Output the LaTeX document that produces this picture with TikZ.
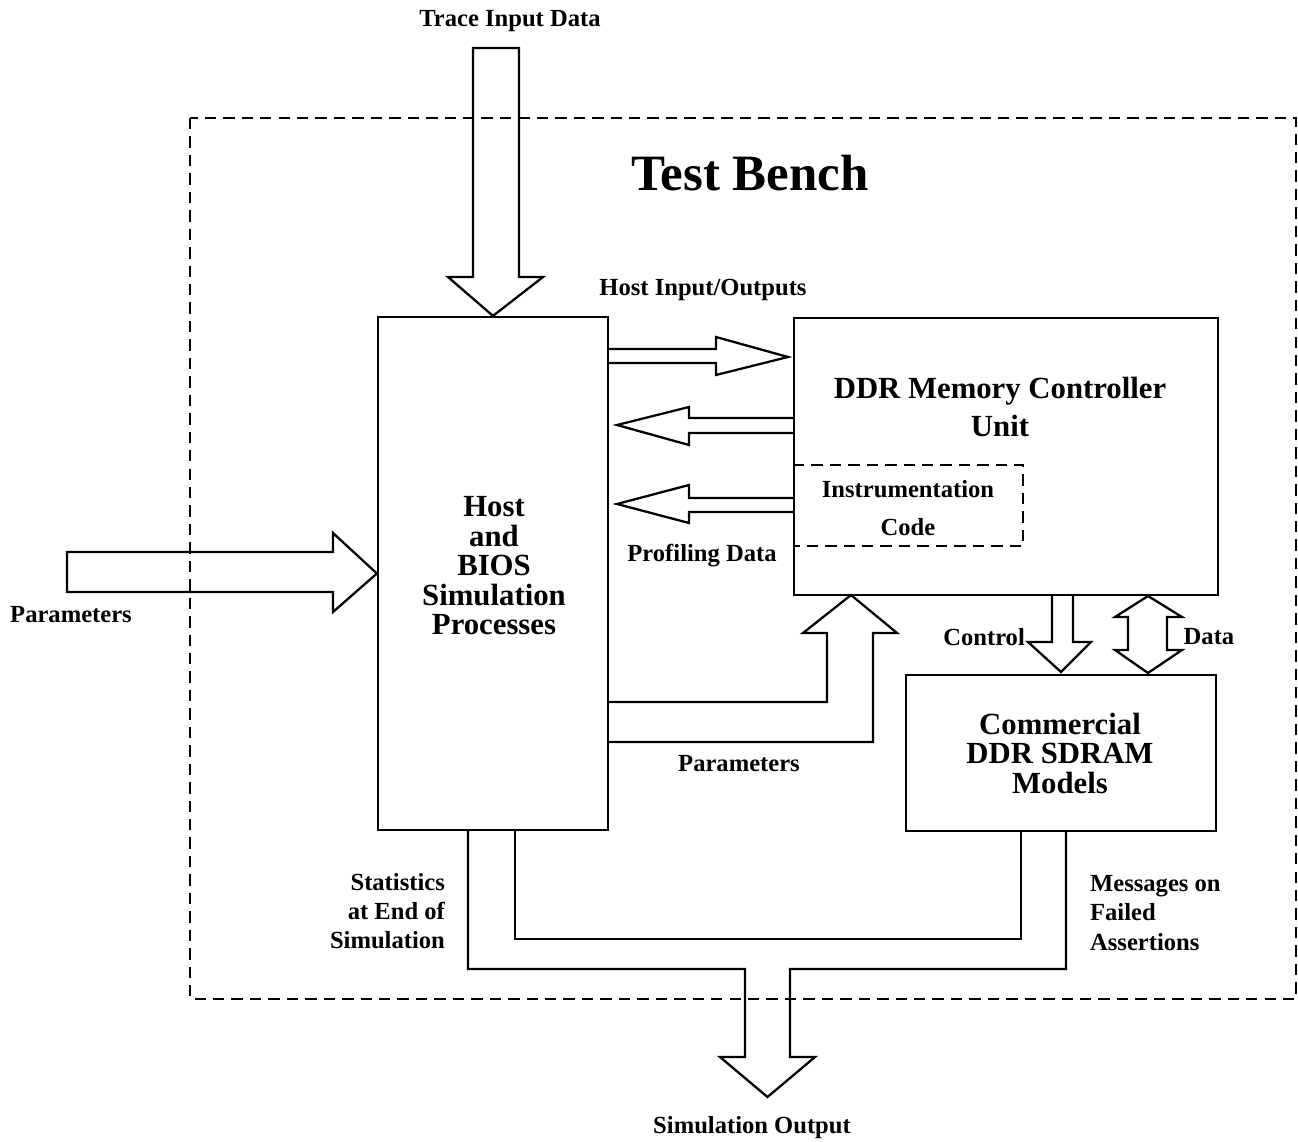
\documentclass[tikz,border=0pt]{standalone}
\usepackage{fontspec}
\setmainfont{Liberation Serif}
\begin{document}
\begin{tikzpicture}[x=0.02cm,y=-0.02cm,line width=1.3pt,line join=miter,
  box/.style={draw,rectangle,inner sep=0pt},
  lbl/.style={font=\fontsize{14}{16.7}\selectfont\bfseries,inner sep=0pt},
  blk/.style={font=\fontsize{17.5}{16.8}\selectfont\bfseries,inner sep=0pt,align=center},
  bench/.style={dash pattern=on 6.5pt off 4pt},
  barrow/.style={draw}]
\useasboundingbox (0,0) rectangle (1298,1142);
% test bench frame
\draw[bench] (190,118) rectangle (1296,999);
% boxes
\node[box,minimum width=4.6cm,minimum height=10.26cm] (host) at (493,573.5) {};
\node[box,minimum width=8.48cm,minimum height=5.54cm] (ddr) at (1006,456.5) {};
\node[inner sep=0pt,minimum width=4.56cm,minimum height=1.58cm] (instr) at (908,505.5) {};
\draw[bench] (instr.north west) -- (instr.north east) -- (instr.south east) -- (instr.south west);
\node[box,minimum width=6.2cm,minimum height=3.12cm] (sdram) at (1061,753) {};
% texts
\node[blk] (hosttxt) at (494,566) {Host\\and\\BIOS\\Simulation\\Processes};
\node[blk,font=\fontsize{17.5}{22}\selectfont\bfseries] (ddrtxt) at (1000,407) {DDR Memory Controller\\Unit};
\node[lbl,align=center,font=\fontsize{14}{21.5}\selectfont\bfseries] (instrtxt) at (908,508) {Instrumentation\\Code};
\node[blk] (sdramtxt) at (1060,753) {Commercial\\DDR SDRAM\\Models};
\node[font=\fontsize{29}{32}\selectfont\bfseries,inner sep=0pt] (title) at (750,173) {Test Bench};
\node[lbl] (trace) at (510,21) {Trace Input Data};
\node[lbl] (hio) at (703,290) {Host Input/Outputs};
\node[lbl] (prof) at (702,556) {Profiling Data};
\node[lbl] (parl) at (71,615) {Parameters};
\node[lbl] (parb) at (739,764) {Parameters};
\node[lbl,anchor=east] (ctrl) at (1026,637) {Control};
\node[lbl] (data) at (1209,637) {Data};
\node[lbl,align=right,anchor=east] (stat) at (446,911) {Statistics\\at End of\\Simulation};
\node[lbl,align=left,anchor=west] (msg) at (1089,913) {Messages on\\Failed\\Assertions};
\node[lbl] (simout) at (752,1128) {Simulation Output};
% trace input arrow
\draw[barrow] (473,48) -- (519,48) -- (519,277) -- (543,277) -- (host.north) -- (448,277) -- (473,277) -- cycle;
% parameters left arrow
\draw[barrow] (67,552) -- (333,552) -- (333,533) -- (host.west) -- (333,612) -- (333,592) -- (67,592) -- cycle;
% host -> ddr
\coordinate (t1) at (788,357);
\draw (host.east |- 0,349) -- (716,349) -- (716,337) -- (t1) -- (716,375) -- (716,363) -- (host.east |- 0,363);
% ddr -> host (two)
\coordinate (t2) at (617,425);
\draw (ddr.west |- 0,418) -- (689,418) -- (689,407) -- (t2) -- (689,445) -- (689,433) -- (ddr.west |- 0,433);
\coordinate (t3) at (617,504);
\draw (ddr.west |- 0,498) -- (689,498) -- (689,485) -- (t3) -- (689,523) -- (689,512) -- (ddr.west |- 0,512);
% parameters up arrow
\draw (host.east |- 0,702) -- (827,702) -- (827,633) -- (803,633) -- (851,595) -- (897,633) -- (873,633) -- (873,742) -- (host.east |- 0,742);
% control arrow
\draw (1052,595) -- (1052,642) -- (1028,642) -- (1061,672) -- (1091,642) -- (1073,642) -- (1073,595);
% data double arrow
\draw[barrow] (1148,596) -- (1182,617) -- (1167,617) -- (1167,650) -- (1182,650) -- (1148,673) -- (1115,650) -- (1128,650) -- (1128,617) -- (1115,617) -- cycle;
% simulation output merge
\draw (468,830) -- (468,969) -- (745,969) -- (745,1057) -- (720,1057) -- (767.5,1097) -- (815,1057) -- (790,1057) -- (790,969) -- (1066,969) -- (1066,831);
\draw (515,830) -- (515,939) -- (1021,939) -- (1021,831);
\end{tikzpicture}
\end{document}
